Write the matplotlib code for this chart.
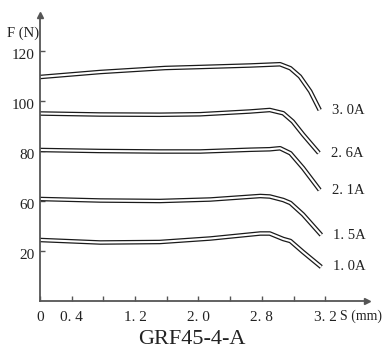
import matplotlib
matplotlib.use("Agg")
import matplotlib.pyplot as plt
import matplotlib.patheffects as pe
from matplotlib.transforms import ScaledTranslation

# stroke S (mm) and force F (axis units)
s_30 = [0, 0.76, 1.58, 2.02, 2.65, 3.03, 3.16, 3.28, 3.41, 3.53]
f_30 = [89.6, 91.6, 93.2, 93.6, 94.2, 94.7, 93.1, 89.8, 83.9, 76.4]

s_26 = [0, 0.76, 1.51, 2.02, 2.65, 2.90, 3.07, 3.19, 3.32, 3.52]
f_26 = [75.0, 74.6, 74.5, 74.7, 75.8, 76.4, 75.1, 71.8, 66.6, 59.2]

s_21 = [0, 0.76, 1.51, 2.02, 2.65, 2.90, 3.03, 3.16, 3.32, 3.53]
f_21 = [60.4, 60.0, 59.8, 59.8, 60.5, 60.7, 61.1, 59.1, 53.2, 44.4]

s_15 = [0, 0.76, 1.51, 2.15, 2.78, 2.90, 3.07, 3.16, 3.32, 3.55]
f_15 = [40.8, 40.2, 40.0, 40.6, 42.0, 41.8, 40.4, 39.2, 34.6, 26.4]

s_10 = [0, 0.76, 1.51, 2.15, 2.78, 2.90, 3.07, 3.16, 3.32, 3.55]
f_10 = [24.4, 23.4, 23.6, 25.0, 27.0, 27.0, 24.8, 24.0, 19.6, 13.6]

currents = ["3. 0A", "2. 6A", "2. 1A", "1. 5A", "1. 0A"]

x_ticks = [0, 0.4, 0.8, 1.2, 1.6, 2.0, 2.4, 2.8, 3.2, 3.6]
x_tick_labels = ["0", "0. 4", "", "1. 2", "", "2. 0", "", "2. 8", "", "3. 2"]
y_ticks = [20, 40, 60, 80, 100]
y_tick_labels = ["20", "60", "80", "100", "120"]

plt.rcParams['font.family'] = ['Liberation Serif', 'DejaVu Serif']

fig = plt.figure(figsize=(3.84, 3.56), dpi=100)
ax = fig.add_axes([40/384, 55/356, 327/384, 286/356])

axis_col = '#555555'
line_col = '#1a1a1a'

curves = [(s_30, f_30), (s_26, f_26), (s_21, f_21), (s_15, f_15), (s_10, f_10)]
for (s, f), name in zip(curves, currents):
    # double outline look: dark wide stroke with a white core
    ax.plot(s, f, color='white', lw=1.5, solid_capstyle='butt',
            solid_joinstyle='round',
            path_effects=[pe.Stroke(linewidth=3.3, foreground=line_col,
                                    capstyle='butt'), pe.Normal()])
    ax.text(s[-1] + 0.15, f[-1], name, va='center', ha='left',
            fontsize=10.5, color='#222222')

ax.set_xlim(0, 4.127)
ax.set_ylim(0, 114.4)

ax.spines['top'].set_visible(False)
ax.spines['right'].set_visible(False)
for sp in ['left', 'bottom']:
    ax.spines[sp].set_color(axis_col)
    ax.spines[sp].set_linewidth(1.3)

ax.set_xticks(x_ticks)
ax.set_xticklabels(x_tick_labels)
ax.set_yticks(y_ticks)
ax.set_yticklabels(y_tick_labels)
ax.tick_params(axis='both', direction='in', length=3.5, width=1,
               color=axis_col, labelsize=11, labelcolor='#222222')
ax.tick_params(axis='x', pad=7)
ax.tick_params(axis='y', pad=4)
for lbl in ax.get_yticklabels():
    lbl.set_transform(lbl.get_transform() + ScaledTranslation(0, -2/72, fig.dpi_scale_trans))

# arrow heads on the axes
ax.plot(1, 0, '>', transform=ax.transAxes, clip_on=False, color=axis_col, ms=5)
ax.plot(0, 1, '^', transform=ax.transAxes, clip_on=False, color=axis_col, ms=5)

fig.text(7/384, 1 - 33/356, 'F (N)', fontsize=10.5, va='center', ha='left', color='#222222')
fig.text(340/384, 1 - 316/356, 'S (mm)', fontsize=10, va='center', ha='left', color='#222222')
fig.text(192/384, 1 - 340/356, 'GRF45-4-A', fontsize=16, va='center', ha='center', color='#222222')

fig.savefig('out.png', dpi=100)
